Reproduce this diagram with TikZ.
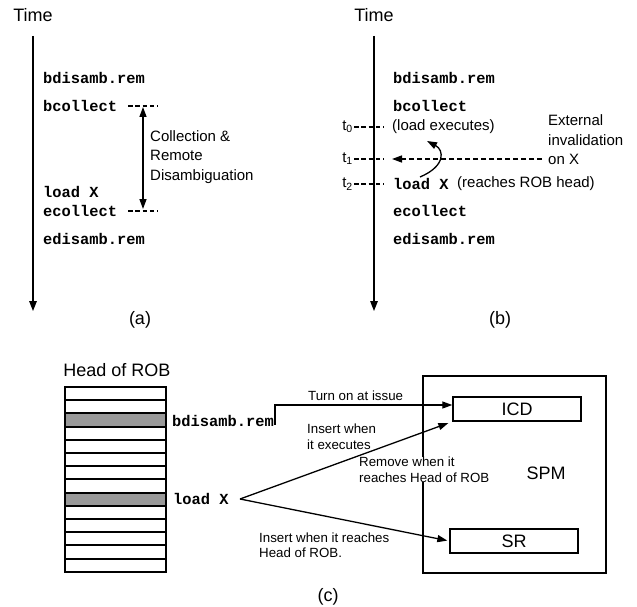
\documentclass[tikz,border=0pt]{standalone}
\usepackage{fontspec}
\setmainfont{Liberation Sans}
\setmonofont{Liberation Mono}
\usetikzlibrary{arrows.meta}
\begin{document}
\begin{tikzpicture}[x=1pt,y=-1pt,
  lbl/.style={font=\fontsize{15}{19.5}\selectfont, inner sep=0pt, anchor=west, align=left},
  code/.style={font=\fontsize{15.4}{17}\selectfont\ttfamily\bfseries, inner sep=0pt, anchor=west},
  small/.style={font=\fontsize{13.3}{15.5}\selectfont, inner sep=0pt, anchor=west, align=left},
  big/.style={font=\fontsize{18}{20}\selectfont, inner sep=0pt},
  timeaxis/.style={line width=1.4pt, -{Triangle[length=10pt,width=7.5pt]}},
  arr/.style={line width=1.3pt, -{Triangle[length=10pt,width=7pt]}},
  dbl/.style={line width=1.3pt, {Triangle[length=10pt,width=7pt]}-{Triangle[length=10pt,width=7pt]}},
  tickline/.style={line width=1.3pt, dash pattern=on 4.5pt off 2.8pt},
  dasharr/.style={line width=1.3pt, dash pattern=on 5pt off 3pt, -{Triangle[length=10pt,width=7pt]}},
  box/.style={draw, line width=1.4pt, inner sep=0pt},
  robrow/.style={draw, line width=2pt},
]
\useasboundingbox (0,0) rectangle (637,607);

% ---------- panel (a) ----------
\node[big] (timeA) at (33,15) {Time};
\coordinate (aTop) at (33,36);
\coordinate (aBot) at (33,311);
\draw[timeaxis] (aTop) -- (aBot);
\node[code] (a1) at (43,78) {bdisamb.rem};
\node[code] (a2) at (43,106) {bcollect};
\node[code] (a3) at (43,192) {load X};
\node[code] (a4) at (43,211) {ecollect};
\node[code] (a5) at (43,239) {edisamb.rem};
\coordinate (d1s) at (128,106); \coordinate (d1e) at (158,106);
\coordinate (d2s) at (128,211); \coordinate (d2e) at (158,211);
\draw[tickline] (d1s) -- (d1e);
\draw[tickline] (d2s) -- (d2e);
\coordinate (daT) at (143,107); \coordinate (daB) at (143,209);
\draw[dbl] (daT) -- (daB);
\node[lbl] (coll) at (150,157) {Collection \&\\Remote\\Disambiguation};
\node[big] (capA) at (140,320) {(a)};

% ---------- panel (b) ----------
\node[big] (timeB) at (374,15) {Time};
\coordinate (bTop) at (374,36);
\coordinate (bBot) at (374,311);
\draw[timeaxis] (bTop) -- (bBot);
\node[code] (b1) at (393,78) {bdisamb.rem};
\node[code] (b2) at (393,106) {bcollect};
\node[lbl] (b3) at (392,127) {(load executes)};
\node[code] (b4) at (393,184) {load X};
\node[lbl] (b4r) at (457,184) {(reaches ROB head)};
\node[code] (b5) at (393,211) {ecollect};
\node[code] (b6) at (393,239) {edisamb.rem};
\node[lbl, anchor=east] (t0) at (353,127) {t\textsubscript{0}};
\node[lbl, anchor=east] (t1) at (353,159) {t\textsubscript{1}};
\node[lbl, anchor=east] (t2) at (353,184) {t\textsubscript{2}};
\coordinate (t0e) at (384,127);
\coordinate (t1e) at (384,159);
\coordinate (t2e) at (384,184);
\draw[tickline] ([xshift=1pt]t0.east) -- (t0e);
\draw[tickline] ([xshift=1pt]t1.east) -- (t1e);
\draw[tickline] ([xshift=1pt]t2.east) -- (t2e);
\node[lbl] (ext) at (548,140) {External\\invalidation\\on X};
\coordinate (invS) at (542,159);
\coordinate (invE) at (392,159);
\draw[dasharr] (invS) -- (invE);
\coordinate (cvS) at (420,177);
\coordinate (cvE) at (427,141);
\draw[arr] (cvS) .. controls (446,166) and (444,150) .. (cvE);
\node[big] (capB) at (500,320) {(b)};

% ---------- panel (c) ----------
\node[big] (hrob) at (117,370) {Head of ROB};
\foreach \i in {0,...,13} {
  \pgfmathsetmacro{\ya}{387+round(13.2*\i)}
  \pgfmathsetmacro{\yb}{387+round(13.2*(\i+1))}
  \ifnum\i=2
    \draw[robrow, fill=black!40] (65,\ya) rectangle (166,\yb);
  \else\ifnum\i=8
    \draw[robrow, fill=black!40] (65,\ya) rectangle (166,\yb);
  \else
    \draw[robrow] (65,\ya) rectangle (166,\yb);
  \fi\fi
}
\node[code] (cbd) at (172,421) {bdisamb.rem};
\node[code] (cld) at (173,499) {load X};

\node[box, minimum width=183pt, minimum height=197pt] (spm) at (514.5,474.5) {};
\node[big] (spml) at (546,473) {SPM};
\node[box, minimum width=128pt, minimum height=24pt, font=\fontsize{18}{20}\selectfont] (icd) at (517,409) {ICD};
\node[box, minimum width=128pt, minimum height=24pt, font=\fontsize{18}{20}\selectfont] (sr) at (514,541) {SR};

\node[small] (ton) at (308,396) {Turn on at issue};
\node[small] (ins1) at (307,436.5) {Insert when\\it executes};
\node[small, fill=white] (rem) at (359,469.5) {Remove when it\\reaches Head of ROB};
\node[small] (ins2) at (259,545) {Insert when it reaches\\Head of ROB.};

\coordinate (lxs) at (240,499);
\draw[arr] ([xshift=1pt,yshift=2pt]cbd.base east) |- ([yshift=4pt]icd.west);
\draw[arr, shorten >=1pt] (lxs) -- ([xshift=-3pt,yshift=-1pt]icd.south west);
\draw[arr, shorten >=2pt] (lxs) -- (sr.west);
\node[big] (capC) at (328,597) {(c)};
\end{tikzpicture}
\end{document}
